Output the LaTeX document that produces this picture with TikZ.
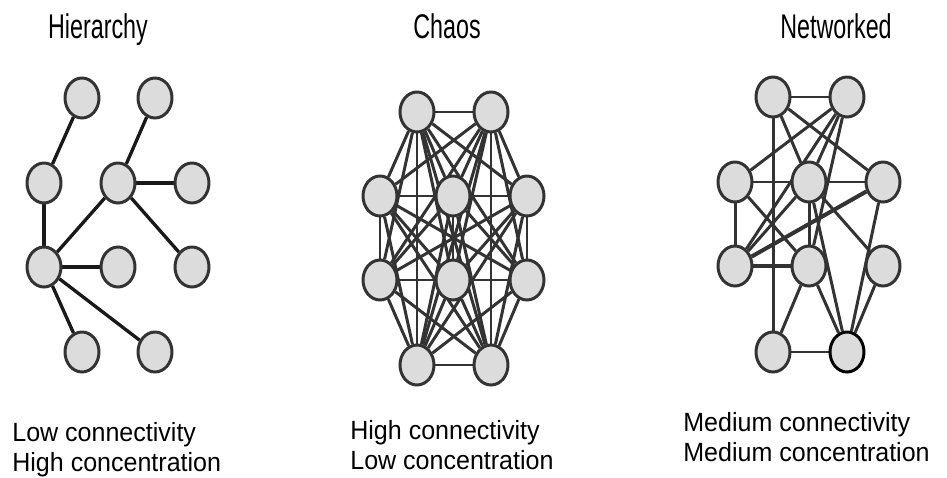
\documentclass[tikz,border=0pt]{standalone}
\usepackage{fontspec}
\setmainfont{Liberation Sans}
\newfontfamily\titlefont[FakeStretch=0.68]{Liberation Sans}
\newfontfamily\capfont[FakeStretch=0.95]{Liberation Sans}
\usetikzlibrary{shapes.geometric,backgrounds}

\definecolor{nodegray}{HTML}{DCDCDC}
\definecolor{edgegray}{HTML}{333333}

\begin{document}
\begin{tikzpicture}[x=0.02cm,y=-0.02cm,
	agent/.style={ellipse,draw=edgegray,fill=nodegray,line width=1.7pt,
		minimum width=0.68cm,minimum height=0.8cm,inner sep=0pt},
	link/.style={draw=edgegray,line width=1.7pt},
	tree/.style={draw=black!90,line width=1.9pt},
	title/.style={anchor=base,inner sep=0pt,font=\titlefont\fontsize{19.5}{23}\selectfont},
	caption/.style={anchor=base west,align=left,inner sep=0pt,
		font=\capfont\fontsize{15}{17}\selectfont}]
	\useasboundingbox (0,0) rectangle (947,477);

	% titles
	\node (th) at (98,38) [title] {Hierarchy};
	\node (tc) at (447,38) [title] {Chaos};
	\node (tn) at (836,38) [title] {Networked};

	% hierarchy
	\node (h1) at (82,98) [agent] {};
	\node (h2) at (155,98) [agent] {};
	\node (h3) at (44,183) [agent] {};
	\node (h4) at (118,183) [agent] {};
	\node (h5) at (192,183) [agent] {};
	\node (h6) at (44,267) [agent] {};
	\node (h7) at (118,267) [agent] {};
	\node (h8) at (192,267) [agent] {};
	\node (h9) at (82,352) [agent] {};
	\node (h10) at (155,352) [agent] {};

	% chaos
	\node (c1) at (417,112) [agent] {};
	\node (c2) at (491,112) [agent] {};
	\node (c3) at (380,196) [agent] {};
	\node (c4) at (453,196) [agent] {};
	\node (c5) at (527,196) [agent] {};
	\node (c6) at (380,280) [agent] {};
	\node (c7) at (453,280) [agent] {};
	\node (c8) at (527,280) [agent] {};
	\node (c9) at (417,365) [agent] {};
	\node (c10) at (491,365) [agent] {};

	% networked
	\node (n1) at (773,97) [agent] {};
	\node (n2) at (847,97) [agent] {};
	\node (n3) at (735,182) [agent] {};
	\node (n4) at (809,182) [agent] {};
	\node (n5) at (883,182) [agent] {};
	\node (n6) at (735,266) [agent] {};
	\node (n7) at (809,266) [agent] {};
	\node (n8) at (883,266) [agent] {};
	\node (n9) at (773,352) [agent] {};
	\node (n10) at (847,352) [agent,draw=black] {};

	\begin{scope}[on background layer]
		\draw [tree] (h1) -- (h3);
		\draw [tree] (h2) -- (h4);
		\draw [tree] (h4) -- (h5);
		\draw [tree] (h4) -- (h8);
		\draw [tree] (h3) -- (h6);
		\draw [tree] (h4) -- (h6);
		\draw [tree,line width=2.6pt] (h6) -- (h7);
		\draw [tree] (h6) -- (h9);
		\draw [tree] (h6) -- (h10);

		% everyone talks to everyone
		\foreach \i in {1,...,9} {
			\pgfmathtruncatemacro\k{\i+1}
			\foreach \j in {\k,...,10}
				\draw [link] (c\i) -- (c\j);
		}

		\foreach \a/\b in {1/2,1/9,1/4,1/5,2/3,2/4,2/6,2/7,3/4,3/6,3/7,
			4/5,4/6,4/7,4/8,4/10,5/10,7/9,7/10,8/10,9/10}
			\draw [link] (n\a) -- (n\b);
		\draw [link,line width=2.3pt] (n5) -- (n6);
		\draw [link,line width=2.3pt] (n6) -- (n7);
	\end{scope}

	% captions (anchored on the last line)
	\node (lh) at (12,471) [caption] {Low connectivity\\High concentration};
	\node (lc) at (350,469) [caption] {High connectivity\\Low concentration};
	\node (ln) at (683,461) [caption] {Medium connectivity\\Medium concentration};
\end{tikzpicture}
\end{document}
